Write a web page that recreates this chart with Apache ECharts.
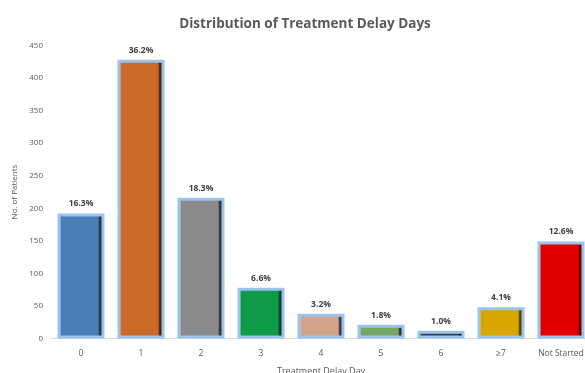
<!DOCTYPE html>
<html><head><meta charset="utf-8">
<script src="https://cdn.jsdelivr.net/npm/echarts@6/dist/echarts.min.js"></script>
<style>html,body{margin:0;padding:0;background:#fff;overflow:hidden}#c{width:585px;height:373px}</style>
</head><body><div id="c"></div>
<script>
const categories = ['0','1','2','3','4','5','6','\u22657','Not Started'];
const patients = [192, 428, 216, 78, 38, 21, 12, 48, 149];
const percentLabels = ['16.3%','36.2%','18.3%','6.6%','3.2%','1.8%','1.0%','4.1%','12.6%'];
const barColors = ['#4a7fb5','#cc6828','#8a8a8a','#0e9a48','#d2a48a','#74a664','#3a424c','#d9a600','#e00000'];
const lightEdges = ['#9fd0ff','#ffd040','#ffffff','#40ff90','#ffffff','#ffffff','#8090a0','#ffff40','#ff4040'];
const darkEdges = ['#1f3550','#4a2410','#333333','#064020','#3a3a3a','#2a3a24','#111418','#5a4400','#700000'];
const yTicks = [0,50,100,150,200,250,300,350,400,450];

const chart = echarts.init(document.getElementById('c'));
const data = patients.map((v,i)=>({
  value: v,
  itemStyle: {
    color: new echarts.graphic.LinearGradient(0,0,1,0,[
      {offset:0,color:lightEdges[i]},
      {offset:0.08,color:barColors[i]},
      {offset:0.86,color:barColors[i]},
      {offset:0.9,color:darkEdges[i]},
      {offset:1,color:darkEdges[i]}
    ]),
    borderColor:'#9cc2ee', borderWidth:3
  }
}));
chart.setOption({
  animation:false,
  title:{text:'Distribution of Treatment Delay Days',left:300,top:12,textAlign:'center',
    textStyle:{fontSize:13.5,fontWeight:'bold',color:'#595959',fontFamily:'Open Sans'}},
  grid:{left:51,width:540,top:45.5,bottom:34.5,containLabel:false,outerBoundsMode:'none'},
  xAxis:{type:'category',data:categories,
    name:'Treatment Delay Day',nameLocation:'middle',nameGap:28,
    nameTextStyle:{fontSize:9,color:'#595959',fontFamily:'Open Sans'},
    axisLine:{lineStyle:{color:'#d9d9d9'}},axisTick:{show:false},
    axisLabel:{fontSize:8.5,color:'#595959',margin:11,fontFamily:'Open Sans'}},
  yAxis:{type:'value',min:0,max:450,interval:50,
    name:'No. of Patients',nameLocation:'middle',nameGap:29,
    nameTextStyle:{fontSize:8,color:'#595959',fontFamily:'Open Sans'},
    axisLine:{show:false},axisTick:{show:false},splitLine:{show:false},
    axisLabel:{fontSize:8,color:'#595959',margin:8,fontFamily:'Open Sans',
      formatter:v=>yTicks.includes(v)?String(v):''}},
  series:[{type:'bar',data:data,barWidth:47,
    label:{show:true,position:'top',distance:5,fontSize:8.5,fontWeight:'bold',color:'#404040',fontFamily:'Open Sans',
      formatter:p=>percentLabels[p.dataIndex]}}]
});
</script></body></html>
